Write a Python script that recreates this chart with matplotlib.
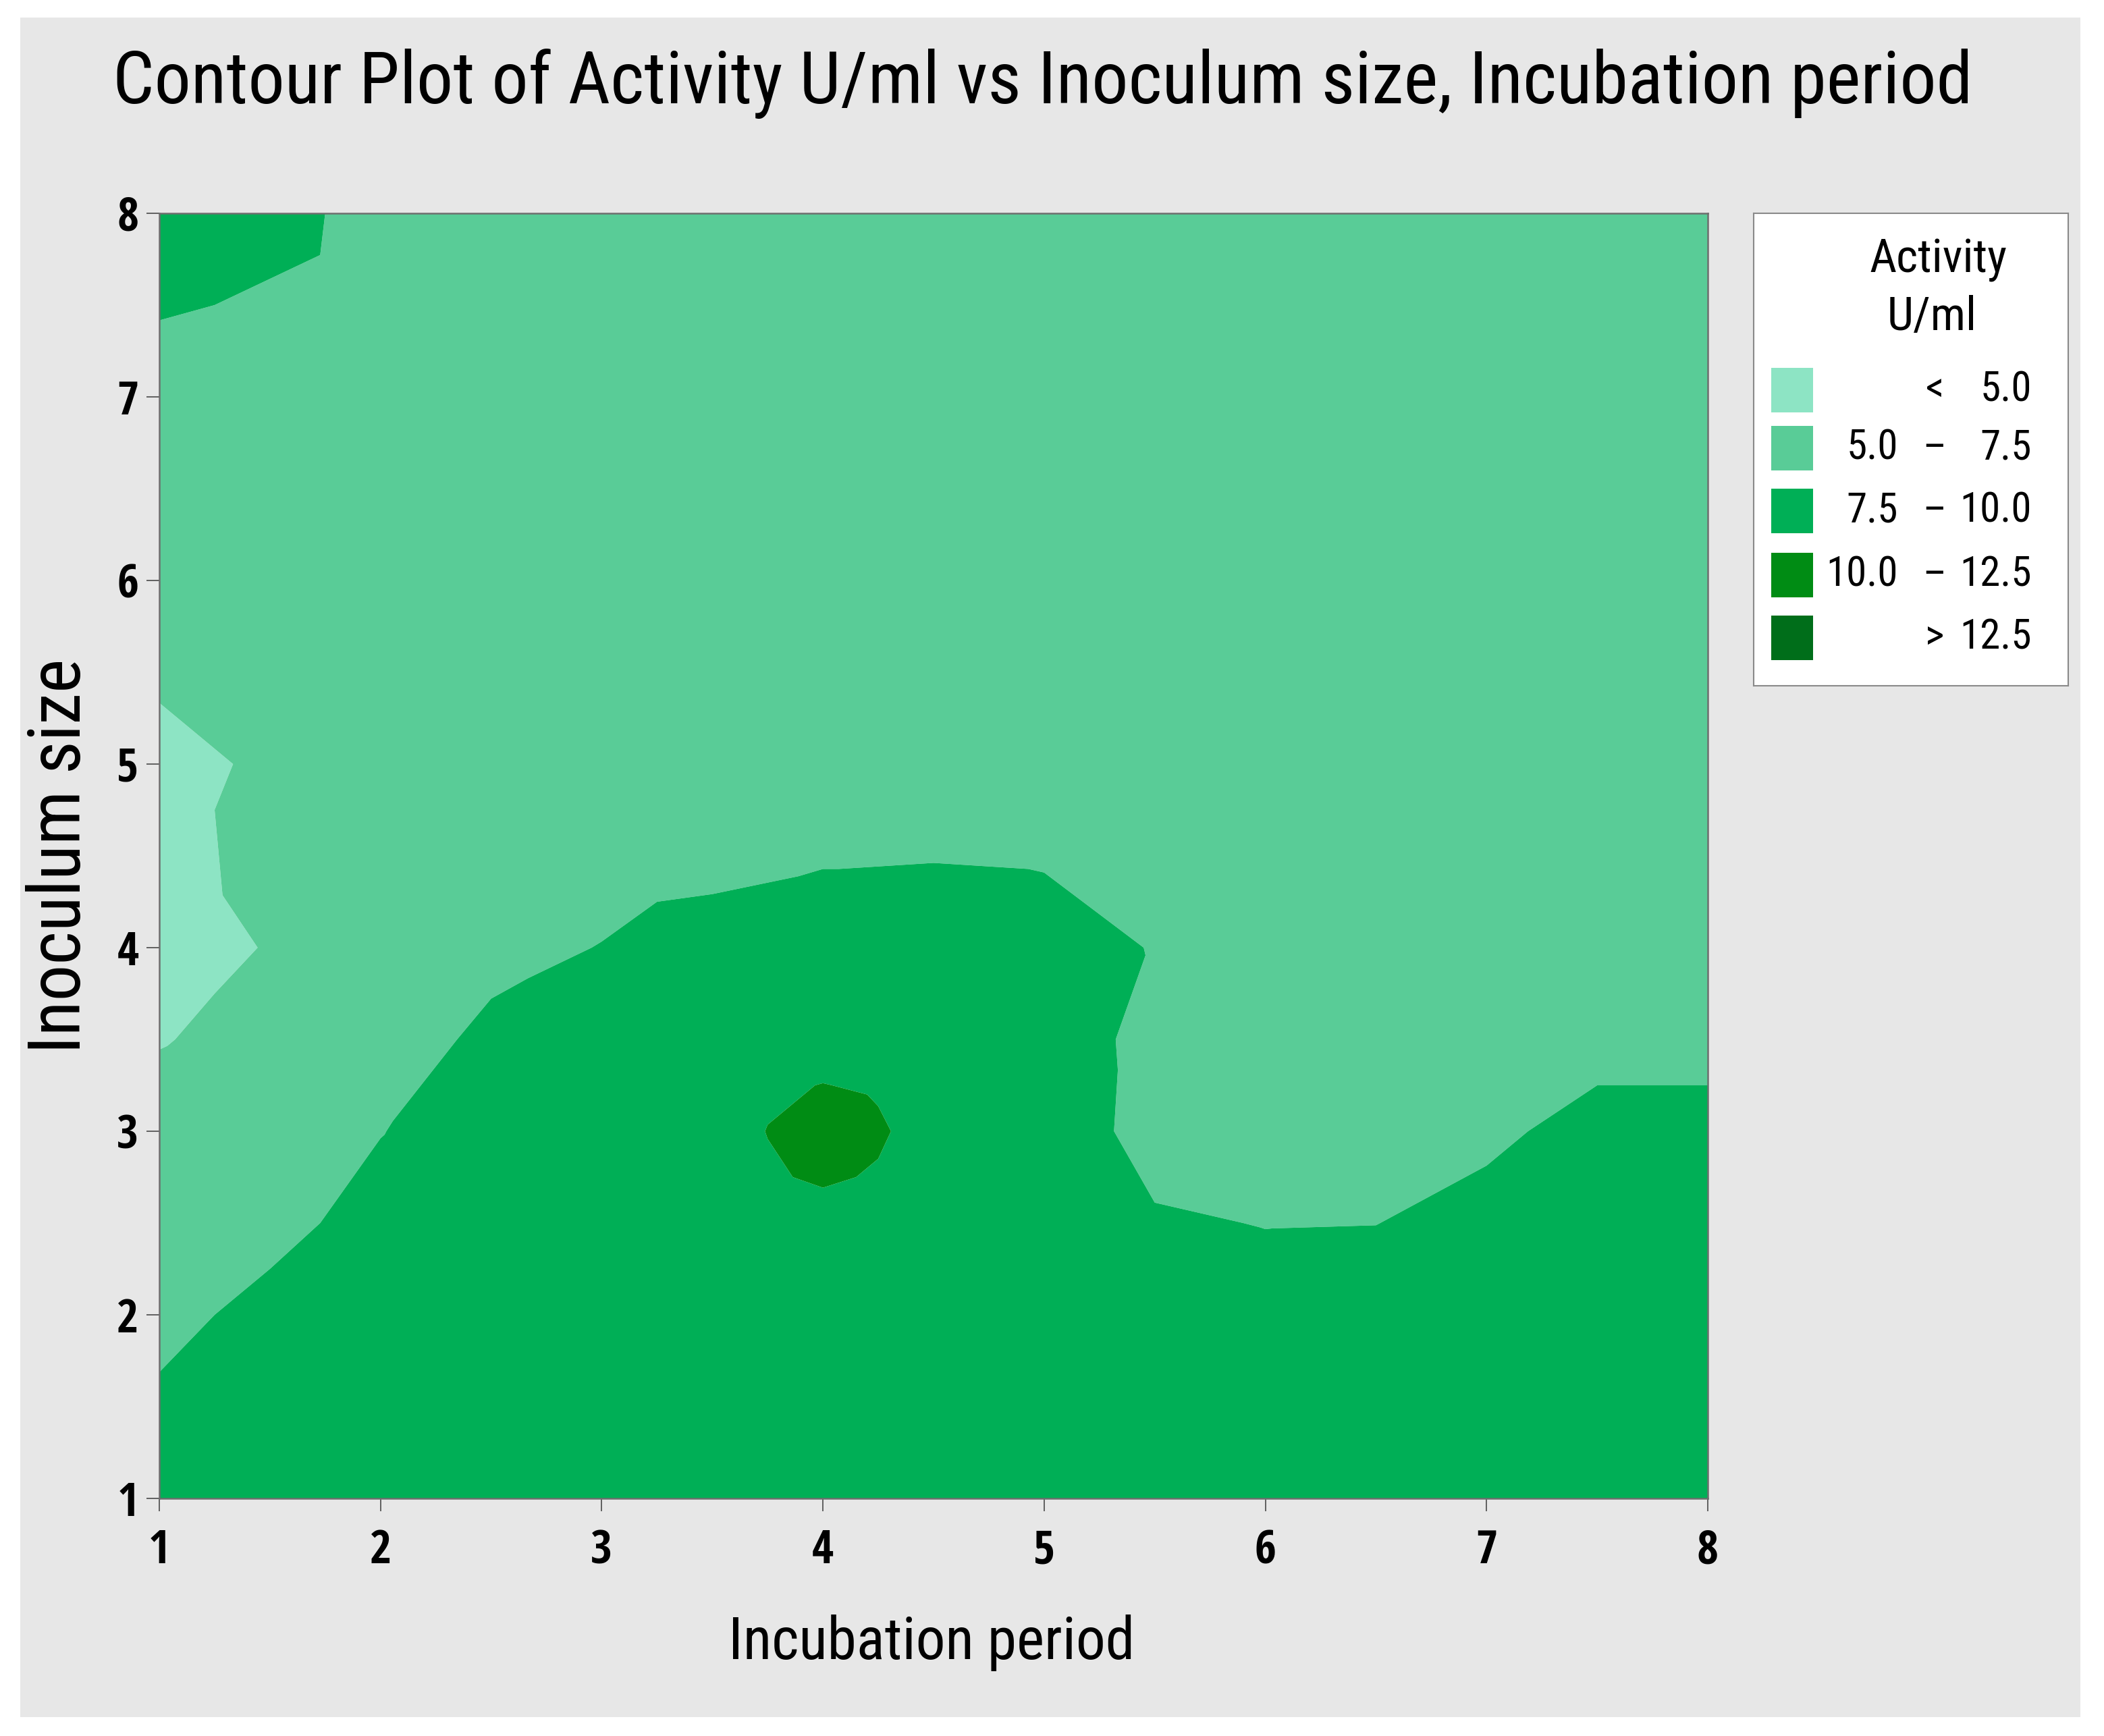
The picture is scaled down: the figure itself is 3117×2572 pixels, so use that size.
import numpy as np
import matplotlib
matplotlib.use("Agg")
import matplotlib.pyplot as plt
import matplotlib.tri as mtri
from matplotlib.patches import Rectangle
from matplotlib import font_manager as fm

# ---------------- data ----------------
incubation_period = [1, 1.5, 2, 2.5, 3, 3.5, 4, 4.5, 5, 5.5, 6, 6.5, 7, 7.5, 8]
inoculum_size = [1, 1.5, 2, 2.5, 3, 3.5, 4, 4.5, 5, 5.5, 6, 6.5, 7, 7.5, 8]
# rows: inoculum size (bottom -> top), columns: incubation period (left -> right)
activity = [
    [8.5, 8.8, 9.0, 9.2, 9.3, 9.3, 9.3, 9.2, 9.0, 8.8, 8.8, 8.8, 8.8, 8.8, 8.8],
    [7.8, 8.5, 8.9, 9.1, 9.3, 9.3, 9.3, 9.2, 9.0, 8.7, 8.7, 8.7, 8.7, 8.8, 8.8],
    [7.0, 8.0, 8.6, 9.0, 9.3, 9.3, 9.3, 9.2, 9.0, 8.5, 8.2, 8.3, 8.4, 8.7, 8.7],
    [6.5, 7.0, 8.1, 8.8, 9.3, 9.3, 9.0, 9.2, 8.9, 7.7, 7.45, 7.48, 8.0, 8.5, 8.5],
    [5.8, 6.3, 7.45, 8.4, 9.3, 9.0, 11.0, 9.0, 8.7, 6.8, 6.8, 6.9, 7.2, 8.0, 8.0],
    [4.9, 5.6, 6.6, 7.9, 8.5, 9.0, 9.0, 9.1, 8.6, 6.9, 6.6, 6.7, 6.8, 7.0, 7.0],
    [4.2, 5.1, 6.0, 7.0, 7.55, 8.2, 8.7, 8.7, 8.4, 7.4, 6.5, 6.5, 6.6, 6.7, 6.8],
    [4.3, 5.6, 5.9, 6.5, 6.8, 7.0, 7.3, 7.4, 7.3, 6.9, 6.3, 6.3, 6.4, 6.5, 6.6],
    [4.4, 5.3, 5.9, 6.3, 6.5, 6.6, 6.8, 6.8, 6.7, 6.5, 6.1, 6.1, 6.2, 6.3, 6.4],
    [5.3, 5.7, 6.1, 6.3, 6.4, 6.4, 6.5, 6.5, 6.4, 6.3, 6.0, 6.0, 6.1, 6.2, 6.3],
    [5.8, 6.0, 6.3, 6.4, 6.4, 6.3, 6.3, 6.3, 6.2, 6.1, 6.0, 6.0, 6.1, 6.2, 6.3],
    [6.2, 6.3, 6.5, 6.5, 6.5, 6.4, 6.3, 6.3, 6.2, 6.1, 6.0, 6.1, 6.2, 6.3, 6.4],
    [6.5, 6.8, 6.7, 6.6, 6.5, 6.5, 6.4, 6.3, 6.3, 6.2, 6.1, 6.2, 6.3, 6.4, 6.5],
    [7.7, 7.3, 6.9, 6.6, 6.5, 6.5, 6.5, 6.4, 6.4, 6.3, 6.2, 6.3, 6.4, 6.5, 6.6],
    [8.5, 8.0, 7.0, 6.6, 6.5, 6.5, 6.5, 6.5, 6.5, 6.4, 6.3, 6.4, 6.5, 6.6, 6.7],
]
# extra readings around the peak near (4, 3)
peak_x = [3.75, 4.25, 4.0, 4.0, 3.75, 4.25, 3.75, 4.25]
peak_y = [3.0, 3.0, 3.25, 2.75, 3.25, 3.25, 2.75, 2.75]
peak_activity = [10.05, 10.3, 10.05, 10.3, 9.7, 9.75, 9.75, 9.8]

level_bounds = [5.0, 7.5, 10.0, 12.5]
legend_labels = [("", "<", "5.0"), ("5.0", "–", "7.5"), ("7.5", "–", "10.0"),
                 ("10.0", "–", "12.5"), ("", ">", "12.5")]
tick_values = [1, 2, 3, 4, 5, 6, 7, 8]

# ---------------- style ----------------
band_colors = ["#8DE4C4", "#59CC97", "#00AF56", "#008C14", "#006E1A"]


def _is_regular(f):
    w = f.weight
    if isinstance(w, str):
        return w.lower() in ("normal", "regular", "book", "400")
    return 350 <= w <= 450


def pick_condensed():
    prefs = ["Open Sans", "Noto Sans", "Roboto", "Liberation Sans Narrow", "DejaVu Sans"]
    cands = []
    for f in fm.fontManager.ttflist:
        key = (f.name + " " + f.fname).lower()
        if ("condensed" in key or "narrow" in key) and _is_regular(f) \
                and f.style == "normal" and "semicondensed" not in key.replace("-", ""):
            cands.append(f)
    for p in prefs:
        for f in cands:
            if f.name.startswith(p):
                return f.fname
    return cands[0].fname if cands else None


cond_path = pick_condensed()
if cond_path:
    REG = fm.FontProperties(fname=cond_path)
else:
    REG = fm.FontProperties(family="Open Sans")
BOLD = fm.FontProperties(family="Open Sans Condensed", weight="bold")

W, H = 3117, 2572
fig = plt.figure(figsize=(W / 100, H / 100), dpi=100, facecolor="white")

# gray panel background
fig.patches.append(Rectangle((30 / W, 1 - 2544 / H), (3082 - 30) / W, (2544 - 26) / H,
                             transform=fig.transFigure, facecolor="#E7E7E7",
                             edgecolor="none", zorder=-10))

ax = fig.add_axes([236 / W, 1 - 2220 / H, (2530 - 236) / W, (2220 - 316) / H])
ax.set_zorder(2)
GX, GY = np.meshgrid(incubation_period, inoculum_size)
xs = np.concatenate([GX.ravel(), peak_x])
ys = np.concatenate([GY.ravel(), peak_y])
zs = np.concatenate([np.array(activity).ravel(), peak_activity])
tri = mtri.Triangulation(xs, ys)
levels = [-100] + level_bounds + [100]
ax.tricontourf(tri, zs, levels=levels, colors=band_colors, antialiased=True)
ax.set_xlim(1, 8)
ax.set_ylim(1, 8)
ax.set_xticks(tick_values)
ax.set_yticks(tick_values)
for s in ax.spines.values():
    s.set_color("#6E6E6E")
    s.set_linewidth(1.8)
ax.tick_params(axis="both", direction="out", length=14, width=1.3, color="#555555",
               labelcolor="black")
ax.tick_params(axis="x", pad=18)
ax.tick_params(axis="y", pad=8)
for lab in ax.get_xticklabels() + ax.get_yticklabels():
    lab.set_fontproperties(BOLD)
    lab.set_fontsize(50)


def ftext(x, y, s, size, fp=REG, **kw):
    t = fig.text(x, y, s, ha="center", va="center", color="black", **kw)
    t.set_fontproperties(fp)
    t.set_fontsize(size)
    return t


ftext(0.4957, 1 - 124 / H, "Contour Plot of Activity U/ml vs Inoculum size, Incubation period", 78)
ftext(1380 / W, 1 - 2434 / H, "Incubation period", 63)
ftext(90 / W, 1 - 1268 / H, "Inoculum size", 77, rotation=90)

# legend panel
lax = fig.add_axes([2598 / W, 1 - 1016 / H, (3064 - 2598) / W, (1016 - 316) / H])
lax.set_zorder(2)
lax.set_xlim(2598, 3064)
lax.set_ylim(1016, 316)
lax.set_xticks([])
lax.set_yticks([])
lax.set_facecolor("white")
for s in lax.spines.values():
    s.set_color("#8A8A8A")
    s.set_linewidth(1.5)


def ltext(x, y, s, size, ha="center"):
    t = lax.text(x, y, s, ha=ha, va="center", color="black")
    t.set_fontproperties(REG)
    t.set_fontsize(size)


ltext(2872, 385, "Activity", 50)
ltext(2862, 470, "U/ml", 50)
row_y = [578, 664, 757, 852, 945]
for i, (c, (a, op, b)) in enumerate(zip(band_colors, legend_labels)):
    lax.add_patch(Rectangle((2624, row_y[i] - 33), 62, 66, facecolor=c, edgecolor="none"))
    if a:
        ltext(2812, row_y[i], a, 44, ha="right")
    ltext(2866, row_y[i], op, 44)
    ltext(3010, row_y[i], b, 44, ha="right")

fig.savefig("out.png", dpi=100, facecolor="white")
